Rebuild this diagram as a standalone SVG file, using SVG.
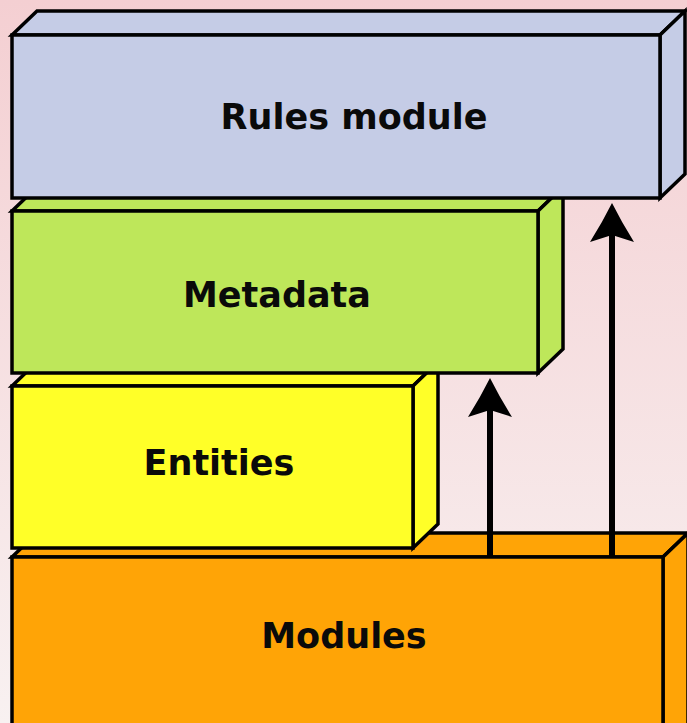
<svg xmlns="http://www.w3.org/2000/svg" width="687" height="723" viewBox="0 0 687 723">
  <defs>
    <linearGradient id="bg" x1="0" y1="0" x2="0" y2="1">
      <stop offset="0" stop-color="#f4cfd2"/>
      <stop offset="1" stop-color="#f8f1f1"/>
    </linearGradient>
    <!-- swept-back arrowhead; tip sits 10px past the line end -->
    <marker id="head" markerUnits="userSpaceOnUse" markerWidth="40" markerHeight="44" viewBox="0 0 40 44" refX="29" refY="22" orient="auto">
      <path d="M39,22 Q20,12.5 0,0 L7,22 L0,44 Q20,31.5 39,22 Z" fill="#000"/>
    </marker>
    <style>
      .edge { stroke: #000; stroke-width: 3.5; stroke-linejoin: miter; }
      .rules { fill: #c5cce6; }
      .meta { fill: #bee75a; }
      .ent { fill: #ffff28; }
      .mod { fill: #ffa406; }
      .label { font-family: "DejaVu Sans", "Liberation Sans", sans-serif; font-weight: bold; font-size: 35px; fill: #0a0a0a; text-anchor: middle; }
      .link { stroke: #000; stroke-width: 6; fill: none; }
    </style>
  </defs>

  <rect x="0" y="0" width="687" height="723" fill="url(#bg)"/>

  <!-- bottom layer -->
  <g id="modules">
    <path class="mod edge" d="M12,557 L37,533 L688,533 L663,557 Z"/>
    <path class="mod edge" d="M663,557 L688,533 L688,730 L663,730 Z"/>
    <rect class="mod edge" x="12" y="557" width="651" height="175"/>
    <text class="label" x="344" y="648">Modules</text>
  </g>

  <g id="entities">
    <path class="ent edge" d="M12,386 L37,362 L438,362 L413,386 Z"/>
    <path class="ent edge" d="M413,386 L438,362 L438,524 L413,548 Z"/>
    <rect class="ent edge" x="12" y="386" width="401" height="162"/>
    <text class="label" x="219" y="475">Entities</text>
  </g>

  <g id="metadata">
    <path class="meta edge" d="M12,211 L37,187 L563,187 L538,211 Z"/>
    <path class="meta edge" d="M538,211 L563,187 L563,349 L538,373 Z"/>
    <rect class="meta edge" x="12" y="211" width="526" height="162"/>
    <text class="label" x="277" y="307">Metadata</text>
  </g>

  <!-- top layer -->
  <g id="rules-module">
    <path class="rules edge" d="M12,35 L37,11 L685,11 L660,35 Z"/>
    <path class="rules edge" d="M660,35 L685,11 L685,174 L660,198 Z"/>
    <rect class="rules edge" x="12" y="35" width="648" height="163"/>
    <text class="label" x="354" y="129">Rules module</text>
  </g>

  <g id="connectors">
    <line class="link" x1="490" y1="557" x2="490" y2="388" marker-end="url(#head)"/>
    <line class="link" x1="612" y1="557" x2="612" y2="213" marker-end="url(#head)"/>
  </g>
</svg>
